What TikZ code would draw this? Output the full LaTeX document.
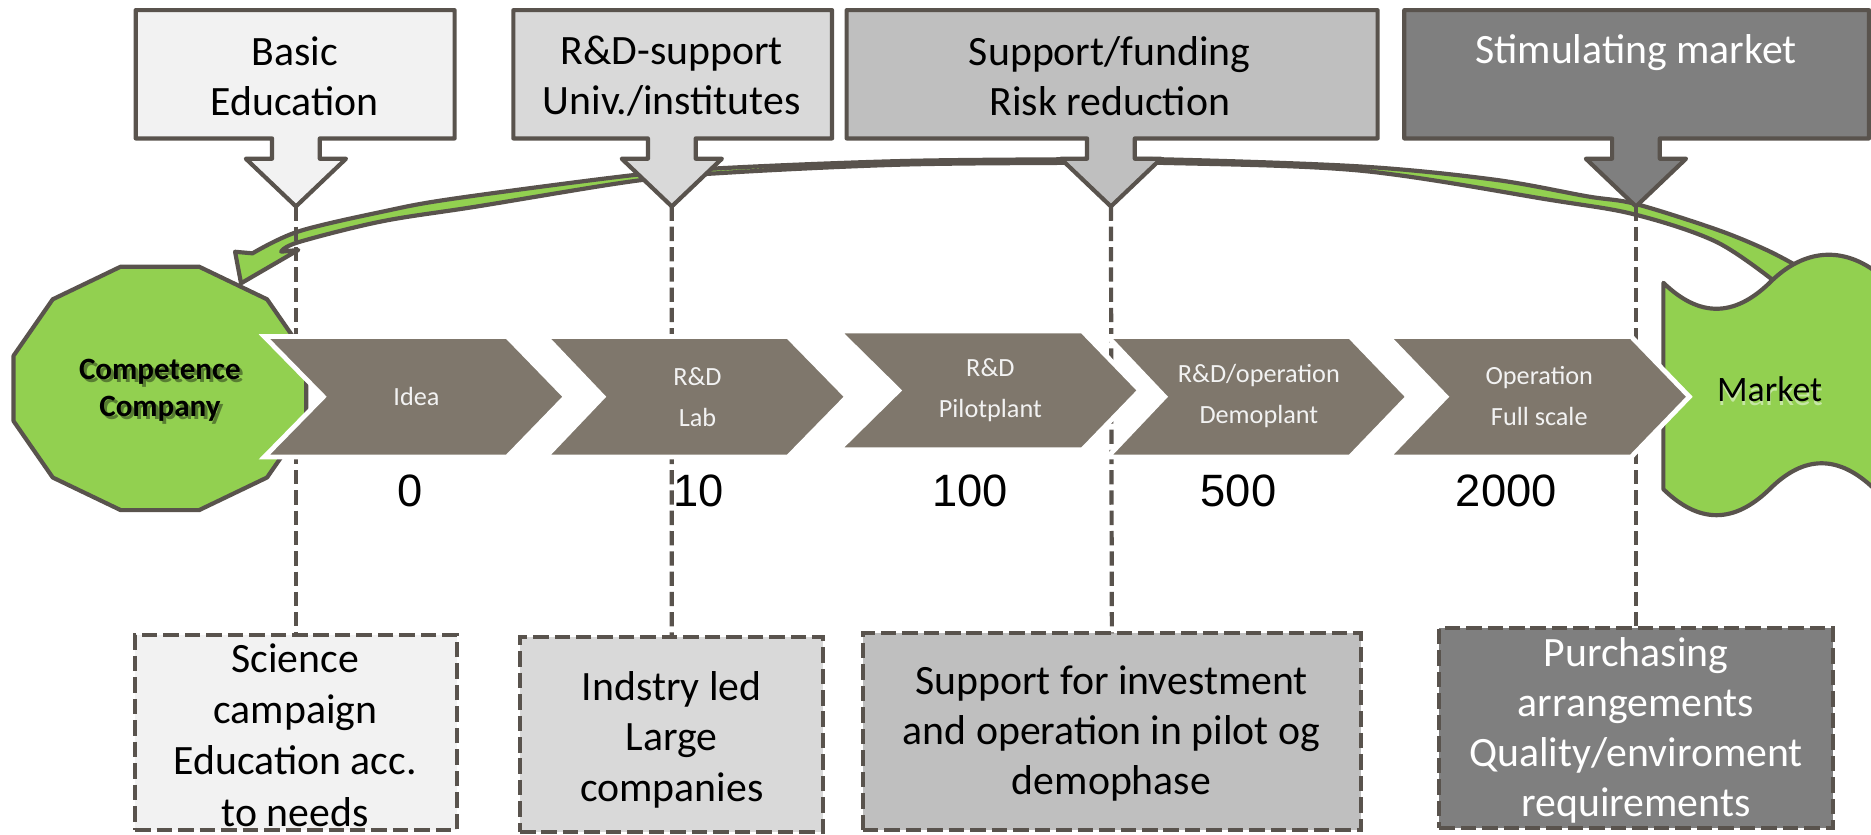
\documentclass[tikz,border=0pt]{standalone}
\usepackage{fontspec}
\setmainfont{Carlito}
\newfontfamily\numfont{Liberation Sans}
\definecolor{edgegray}{RGB}{89,83,77}
\definecolor{chevfill}{RGB}{127,119,108}
\definecolor{leafgreen}{RGB}{146,208,80}
\definecolor{leafshadow}{RGB}{88,125,50}
\definecolor{leafglow}{RGB}{198,231,163}
\definecolor{shadeA}{RGB}{242,242,242}
\definecolor{shadeB}{RGB}{217,217,217}
\definecolor{shadeC}{RGB}{191,191,191}
\definecolor{shadeD}{RGB}{127,127,127}
\definecolor{chevtext}{RGB}{242,242,242}

% callout: box with a block arrow below it; #1 tip name, #2 left, #3 right, #4 centre, #5 fill
\newcommand\calloutbox[5]{%
  \draw[edge, fill=#5] (#2,8.5) -- (#3,8.5) -- (#3,116) -- ({#4+20},116) -- ({#4+20},133)
    -- ({#4+42},133) -- (#4,173) -- ({#4-42},133) -- ({#4-20},133) -- ({#4-20},116)
    -- (#2,116) -- cycle;
  \coordinate (#1) at (#4,173);}

% text with an offset copy behind it: #1 colour, #2 dx, #3 dy, #4 text
\newcommand\offsetcopy[4]{%
  \makebox[0pt][l]{\raisebox{-#3}[0pt][0pt]{\hspace{#2}\textcolor{#1}{#4}}}#4}

\begin{document}
\begin{tikzpicture}[x=1pt,y=-1pt,
  every node/.style={inner sep=0pt, outer sep=0pt},
  edge/.style={draw=edgegray, line width=3.5pt, line join=round},
  dashbox/.style={draw=edgegray, line width=3.5pt, dash pattern=on 13pt off 5pt},
  guide/.style={draw=edgegray, line width=3.5pt, dash pattern=on 12pt off 5pt},
  chev/.style={fill=chevfill, draw=white, line width=4pt, line join=miter},
  bigtxt/.style={font=\fontsize{35}{42}\selectfont, align=center},
  chevtxt/.style={font=\fontsize{22}{34}\selectfont, align=center, text=chevtext},
  numtxt/.style={font=\numfont\fontsize{38}{40}\selectfont},
  cctxt/.style={font=\bfseries\fontsize{26}{31}\selectfont, align=center},
]
\useasboundingbox (0,0) rectangle (1568,699);
\clip (0,0) rectangle (1568,699);

% curved return arrow from the market back to the company
\draw[edge, line width=3.5pt, fill=leafgreen]
  plot[smooth, tension=0.55] coordinates {(211.6,212.3) (250,194) (320,177.5) (380,166.5)
    (533,146.5) (613,140.5) (754,135) (890,133.5) (974,133.5) (1140,139.5) (1252,150.5) (1330,164.5)
    (1371,171) (1439,192.5) (1480.5,209.5) (1508,224)}
  -- plot[smooth, tension=0.55] coordinates {(1490,238) (1439,203) (1371,180) (1299,167.5)
    (1140,143) (974,136.5) (890,136.5) (754,138) (613,144.5) (533,151.5)
    (400,173) (320,185.5) (250,203) (235.7,210.9)}
  -- (250,209.5) -- (202,237.4) -- (197,211) -- cycle;

% policy instruments on top
\calloutbox{c1}{113.7}{381}{248}{shadeA}
\calloutbox{c2}{430.2}{697.3}{563}{shadeB}
\calloutbox{c3}{709.5}{1154.5}{931}{shadeC}
\calloutbox{c4}{1176.8}{1566.3}{1371}{shadeD}

\node[bigtxt] (t1) at (247,64) {Basic\\Education};
\node[bigtxt] (t2) at (563,64) {R\&D-support\\Univ./institutes};
\node[bigtxt] (t3) at (930,64) {Support/funding\\Risk reduction};
\node[bigtxt, text=white, anchor=base] (t4) at (1371,53) {Stimulating market};

% measures at the bottom
\node[dashbox, fill=shadeA, minimum width=269.4pt, minimum height=163.6pt] (sA) at (248,613.8) {};
\node[dashbox, fill=shadeB, minimum width=254.2pt, minimum height=163.5pt] (sB) at (562.9,615.3) {};
\node[dashbox, fill=shadeC, minimum width=417.5pt, minimum height=164.9pt] (sC) at (931.8,613.2) {};
\node[dashbox, fill=shadeD, minimum width=330pt, minimum height=167.6pt] (sD) at (1371,610.4) {};

\node[bigtxt, font=\fontsize{35}{43}\selectfont] (bA) at (247.5,616) {Science\\campaign\\Education acc.\\to needs};
\node[bigtxt] (bB) at (563,620) {Indstry led\\Large\\companies};
\node[bigtxt] (bC) at (931.5,615) {Support for investment\\and operation in pilot og\\demophase};
\node[bigtxt, text=white] (bD) at (1371,612) {Purchasing\\arrangements\\Quality/enviroment\\requirements};

% dashed guides from each instrument to its measure
\draw[guide] (c1) -- (sA.north);
\draw[guide] (c2) -- (sB.north);
\draw[guide] (c3) -- (sC.north);
\draw[guide] (c4) -- (sD.north);

% company
\begin{scope}[shift={(134,325.5)}]
  \draw[edge, fill=leafgreen] (15:127 and 105.6) -- (45:127 and 105.6) -- (75:127 and 105.6)
    -- (105:127 and 105.6) -- (135:127 and 105.6) -- (165:127 and 105.6)
    -- (195:127 and 105.6) -- (225:127 and 105.6) -- (255:127 and 105.6)
    -- (285:127 and 105.6) -- (315:127 and 105.6) -- (345:127 and 105.6) -- cycle;
\end{scope}

% market
\draw[edge, fill=leafgreen] (1394,237) .. controls (1424,266) and (1453,266) .. (1483,237)
  .. controls (1512,208) and (1545,206) .. (1575,230) -- (1620,237) -- (1620,410)
  -- (1571,410) .. controls (1541,381) and (1512,381) .. (1483,410)
  .. controls (1453,439) and (1424,439) .. (1394,410) -- cycle;

% value chain
\draw[chev] (221.5,282) -- (425,282) -- (474,332.5) -- (425,383) -- (221.5,383) -- (271,332.5) -- cycle;
\draw[chev] (457.2,282) -- (660.4,282) -- (709.8,332.5) -- (660.4,383) -- (457.2,383) -- (505.3,332.5) -- cycle;
\draw[chev] (702.6,277.4) -- (907,277.4) -- (955.2,327.2) -- (907,377) -- (702.6,377) -- (753.2,327.2) -- cycle;
\draw[chev] (928.2,282) -- (1131.4,282) -- (1180,332.5) -- (1131.4,383) -- (928.2,383) -- (976.1,332.5) -- cycle;
\draw[chev] (1163.2,282) -- (1367,282) -- (1415.8,332.5) -- (1367,383) -- (1163.2,383) -- (1211.8,332.5) -- cycle;

\node[chevtxt] (k1) at (349,332) {Idea};
\node[chevtxt] (k2) at (584.5,333) {R\&D\\Lab};
\node[chevtxt] (k3) at (830,327) {R\&D\\Pilotplant};
\node[chevtxt] (k4) at (1055,332) {R\&D/operation\\Demoplant};
\node[chevtxt] (k5) at (1290,332) {Operation\\Full scale};

% company label with its shadow, market label with its glow
\node[cctxt] (cc) at (134,327)
  {\offsetcopy{leafshadow}{2.5pt}{2.5pt}{Competence}\\\offsetcopy{leafshadow}{2.5pt}{2.5pt}{Company}};
\node[font=\fontsize{30}{36}\selectfont] (mk) at (1483,326)
  {\offsetcopy{leafglow}{0.5pt}{3.5pt}{Market}};

% scale of each step
\node[numtxt] (n1) at (344,411) {0};
\node[numtxt] (n2) at (585.7,411) {10};
\node[numtxt] (n3) at (812.8,411) {100};
\node[numtxt] (n4) at (1037.9,411) {500};
\node[numtxt] (n5) at (1262.3,411) {2000};
\end{tikzpicture}
\end{document}
